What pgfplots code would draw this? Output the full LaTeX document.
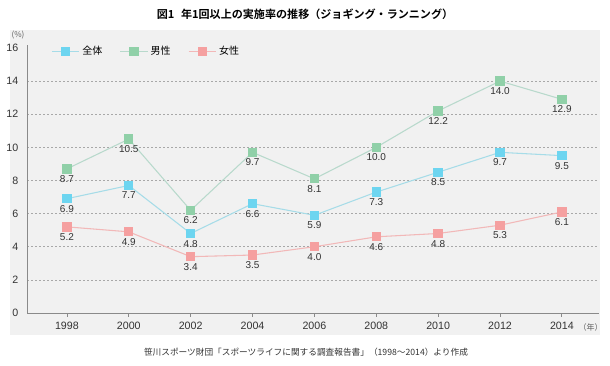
\documentclass[border=0pt]{standalone}
\usepackage{fontspec}
\setmainfont{Liberation Sans}
\newfontfamily\cjk{Noto Sans CJK JP}
\newfontfamily\cjkb{Noto Sans CJK JP Bold}
\usepackage{pgfplots}
\pgfplotsset{compat=1.18}
\definecolor{panel}{HTML}{F1F1F1}
\definecolor{allm}{HTML}{6DD5F0}
\definecolor{alll}{HTML}{A6DCE8}
\definecolor{menm}{HTML}{90D0A8}
\definecolor{menl}{HTML}{B8D9CC}
\definecolor{womm}{HTML}{F5A0A0}
\definecolor{woml}{HTML}{F2B8B8}
\definecolor{txt}{HTML}{333333}
\definecolor{axc}{HTML}{8A8A8A}
\definecolor{gridc}{HTML}{A8A8A8}
\begin{document}
\begin{tikzpicture}[x=1pt,y=1pt]
\useasboundingbox (0,0) rectangle (457.5,274.5);
\fill[white] (0,0) rectangle (457.5,274.5);
\fill[panel] (7.5,23.25) rectangle (450,252);
\node[font=\cjkb\fontsize{8.3}{10}\selectfont, text=black] at (228.75,263.5) {図1\hspace{0.6em}年1回以上の実施率の推移（ジョギング・ランニング）};
\node[font=\cjk\fontsize{6}{7}\selectfont, text=txt!80] at (13.5,248.5) {(\%)};
\node[font=\cjk\fontsize{6}{7}\selectfont, text=txt!80] at (443,29.25) {（年）};
\node[font=\cjk\fontsize{6.5}{7}\selectfont, text=txt] at (229.5,10.5) {笹川スポーツ財団「スポーツライフに関する調査報告書」（1998～2014）より作成};
\begin{axis}[
  at={(20.25pt,39.75pt)}, anchor=south west,
  scale only axis, width=429pt, height=201pt,
  xmin=1996.71, xmax=2015.2, ymin=0, ymax=16.18,
  axis x line*=bottom, axis y line*=left,
  axis line style={axc, line width=0.6pt, -},
  xtick={1998,2000,...,2014}, ytick={0,2,...,14},
  extra y ticks={16}, extra y tick style={grid=none},
  x tick label style={/pgf/number format/1000 sep={}},
  /pgf/number format/assume math mode=true,
  tick label style={font=\fontsize{8}{9}\selectfont, text=txt},
  xtick style={axc, line width=0.6pt}, tick align=outside,
  major tick length=3pt,
  ytick style={draw=none},
  ymajorgrids, grid style={gridc, line width=0.4pt, dash pattern=on 1.5pt off 1.5pt},
  xtick pos=bottom,
  legend columns=3,
  legend style={draw=none, at={(0.035,0.975)}, anchor=west,
    fill=panel, font=\cjk\fontsize{7.5}{8}\selectfont,
    /tikz/every even column/.append style={column sep=11pt}},
  legend image code/.code={\draw[#1,mark=none] (0cm,0cm) -- (0.72cm,0cm); \draw[#1,only marks] plot coordinates {(0.36cm,0cm)};},
  nodes near coords, point meta=explicit symbolic,
  every node near coord/.append style={anchor=north, inner sep=1pt, yshift=-3.5pt, font=\fontsize{7.5}{9}\selectfont, text=txt},
  clip=false,
]
\addplot[color=alll, line width=0.8pt, mark=square*, mark size=3.1pt, mark options={fill=allm, draw=allm}] coordinates {
(1998,6.9)[6.9] (2000,7.7)[7.7] (2002,4.8)[4.8] (2004,6.6)[6.6] (2006,5.9)[5.9] (2008,7.3)[7.3] (2010,8.5)[8.5] (2012,9.7)[9.7] (2014,9.5)[9.5]};
\addlegendentry{全体}
\addplot[color=menl, line width=0.8pt, mark=square*, mark size=3.1pt, mark options={fill=menm, draw=menm}] coordinates {
(1998,8.7)[8.7] (2000,10.5)[10.5] (2002,6.2)[6.2] (2004,9.7)[9.7] (2006,8.1)[8.1] (2008,10.0)[10.0] (2010,12.2)[12.2] (2012,14.0)[14.0] (2014,12.9)[12.9]};
\addlegendentry{男性}
\addplot[color=woml, line width=0.8pt, mark=square*, mark size=3.1pt, mark options={fill=womm, draw=womm}] coordinates {
(1998,5.2)[5.2] (2000,4.9)[4.9] (2002,3.4)[3.4] (2004,3.5)[3.5] (2006,4.0)[4.0] (2008,4.6)[4.6] (2010,4.8)[4.8] (2012,5.3)[5.3] (2014,6.1)[6.1]};
\addlegendentry{女性}
\end{axis}
\end{tikzpicture}
\end{document}
